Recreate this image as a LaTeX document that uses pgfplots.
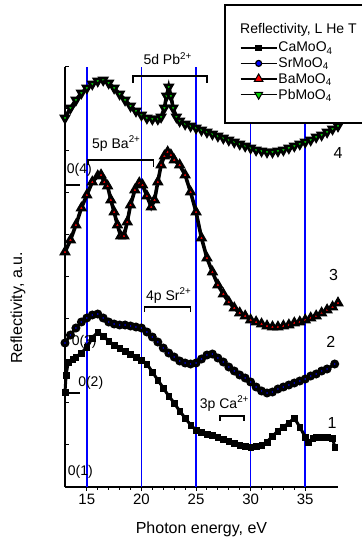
\documentclass[border=0pt]{standalone}
\usepackage{fontspec}
\setmainfont{Liberation Sans}
\usepackage{pgfplots}
\pgfplotsset{compat=1.18}
\newcommand{\fs}{\fontsize{14bp}{16bp}\selectfont}
\newcommand{\fl}{\fontsize{16bp}{18bp}\selectfont}
\begin{document}
\begin{tikzpicture}
\useasboundingbox (-65bp,-53bp) rectangle (297bp,487bp);
\begin{axis}[
  at={(0,0)}, anchor=south west,
  scale only axis, width=273bp, height=420bp,
  xmin=13, xmax=38, ymin=0, ymax=420,
  axis x line=bottom, axis y line=left,
  axis line style={-, line width=1.3bp},
  xtick={15,20,25,30,35}, minor x tick num=4,
  ytick={0,42,...,420}, yticklabels={},
  tick align=outside,
  major tick length=4bp, minor tick length=2.5bp,
  every tick/.style={black, line width=1bp},
  ytick style={xshift=4bp},
  /pgf/number format/assume math mode=true,
  every tick label/.append style={font=\fontsize{15bp}{17bp}\selectfont},
  xlabel={Photon energy, eV},
  xlabel style={at={(axis description cs:0.5,0)}, anchor=base, yshift=-46bp, font=\fl},
  ylabel={Reflectivity, a.u.},
  ylabel style={at={(axis description cs:-0.172,0.426)}, anchor=center, font=\fl},
  clip=false,
  legend image code/.code={\draw[mark repeat=2, mark phase=2] plot coordinates {(0bp,0bp) (18bp,0bp) (36bp,0bp)};},
  legend style={draw=none, fill=none, at={(axis cs:29.0,446)}, anchor=north west, font=\fs, row sep=2.3bp, inner sep=0pt, nodes={inner sep=1bp}},
  legend cell align=left,
]
% blue reference lines
\pgfplotsinvokeforeach{15,20,25,30,35}{
  \addplot[blue, line width=1.6bp, forget plot] coordinates {(#1,0) (#1,420)};
}
% Curve 1: CaMoO4
\addplot[black, line width=3bp, mark=square*, mark size=2.8bp, mark options={draw=black, fill=black, line width=0.5bp}, forget plot] coordinates {
(13,95) (13.1,112) (13.3,125) (13.7,128) (14,130) (14.5,134) (15,140) (15.5,149) (16,155) (16.5,151) (17,146) (17.5,142) (18,139) (18.5,136) (19,133) (19.5,130) (20,127) (20.5,123) (21,115) (21.5,107) (22,99) (22.5,91) (23,84) (23.5,76) (24,69) (24.5,62) (25,57) (25.5,55) (26,53) (26.5,52) (27,50) (27.5,48) (28,46) (28.5,44) (29,42) (29.5,41) (30,40) (30.5,41) (31,42) (31.5,45) (32,51) (32.5,56) (33,60) (33.5,64) (34,69) (34.5,60) (35,50) (35.3,45) (35.7,49) (36,50) (36.5,50) (37,50) (37.5,49) (37.7,40)
};
% Curve 2: SrMoO4
\addplot[black, line width=3.2bp, mark=*, mark size=2.7bp, mark options={draw=black, fill=blue, line width=3.4bp}, forget plot] coordinates {
(13,144) (13.5,152) (14,159) (14.5,165) (15,169) (15.5,172) (16,173) (16.5,169) (17,165) (17.5,163) (18,162) (18.5,162) (19,161) (19.5,160) (20,159) (20.5,155) (21,150) (21.5,145) (22,139) (22.5,134) (23,130) (23.5,126) (24,124) (24.5,123) (25,124) (25.5,128) (26,132) (26.5,133) (27,129) (27.5,125) (28,120) (28.5,116) (29,112) (29.5,109) (30,105) (30.5,100) (31,96) (31.5,94) (32,95) (32.5,98) (33,100) (33.5,102) (34,104) (34.5,106) (35,108) (35.5,111) (36,113) (36.5,116) (37,118) (37.7,123)
};
% Curve 3: BaMoO4
\addplot[black, line width=3.6bp, mark=triangle*, mark size=4.2bp, mark options={draw=black, fill=red, line width=2.6bp}, forget plot] coordinates {
(13,235) (13.5,247) (14,262) (14.5,279) (15,292) (15.5,305) (16,311) (16.3,312) (16.6,305) (16.9,301) (17.2,287) (17.5,275) (17.8,262) (18.1,251) (18.4,251) (18.7,265) (19,282) (19.4,297) (19.8,304) (20.1,302) (20.5,291) (20.9,280) (21.2,287) (21.5,305) (21.8,322) (22.1,331) (22.4,335) (22.7,332) (23,327) (23.5,322) (24,312) (24.5,295) (25,275) (25.5,249) (26,229) (26.5,215) (27,202) (27.5,193) (28,185) (28.5,179) (29,174) (29.5,171) (30,167) (30.5,165) (31,163) (31.5,161) (32,160) (32.5,160) (33,161) (33.5,162) (34,164) (34.5,165) (35,167) (35.5,169) (36,171) (36.5,174) (37,177) (37.5,180) (38,184)
};
% Curve 4: PbMoO4
\addplot[black, line width=3.6bp, mark=triangle*, mark size=4.2bp, mark options={draw=black, fill=green!80!black, line width=2.6bp, rotate=180}, forget plot] coordinates {
(13,369) (13.5,379) (14,387) (14.5,394) (15,399) (15.5,403) (16,406) (16.5,407) (17,404) (17.5,399) (18,393) (18.5,387) (19,381) (19.5,376) (20,372) (20.5,369) (21,368) (21.5,368) (21.8,370) (22.1,379) (22.3,391) (22.5,400) (22.7,391) (22.9,379) (23.2,370) (23.5,366) (24,363) (24.5,361) (25,359) (25.5,357) (26,355) (26.5,353) (27,351) (27.5,349) (28,347) (28.5,345) (29,343) (29.5,341) (30,339) (30.5,337) (31,336) (31.5,335) (32,335) (32.5,336) (33,337) (33.5,339) (34,341) (34.5,343) (35,345) (35.5,347) (36,350) (36.5,352) (37,355) (37.5,358) (38,361)
};
% zero-level markers
\draw[line width=1.3bp] (axis cs:13,302) -- (axis cs:14.37,302);
\draw[line width=1.3bp] (axis cs:13,127) -- (axis cs:13.9,127);
\draw[line width=1.3bp] (axis cs:13,94) -- (axis cs:14.37,94);
\node[anchor=west, inner sep=0pt, font=\fs] at (axis cs:13.15,317) {0(4)};
\node[anchor=west, inner sep=0pt, font=\fs] at (axis cs:13.6,145) {0(3)};
\node[anchor=west, inner sep=0pt, font=\fs] at (axis cs:14.2,104) {0(2)};
\node[anchor=west, inner sep=0pt, font=\fs] at (axis cs:13.25,15) {0(1)};
% brackets
\draw[line width=1.5bp] (axis cs:19.23,404) -- (axis cs:19.23,411) -- (axis cs:26.0,411) -- (axis cs:26.0,404);
\node[anchor=base, inner sep=0pt, font=\fs] at (axis cs:22.4,422) {5d Pb\textsuperscript{2+}};
\draw[line width=1.5bp] (axis cs:15.1,322) -- (axis cs:15.1,327) -- (axis cs:21.1,327) -- (axis cs:21.1,320);
\node[anchor=base, inner sep=0pt, font=\fs] at (axis cs:17.7,339) {5p Ba\textsuperscript{2+}};
\draw[line width=1.5bp] (axis cs:20.3,175) -- (axis cs:20.3,180) -- (axis cs:24.5,180) -- (axis cs:24.5,175);
\node[anchor=base, inner sep=0pt, font=\fs] at (axis cs:22.5,187) {4p Sr\textsuperscript{2+}};
\draw[line width=1.5bp] (axis cs:27.2,66) -- (axis cs:27.2,71) -- (axis cs:29.4,71) -- (axis cs:29.4,66);
\node[anchor=base, inner sep=0pt, font=\fs] at (axis cs:27.6,79) {3p Ca\textsuperscript{2+}};
% curve labels
\node[font=\fl] at (axis cs:38,334) {4};
\node[font=\fl] at (axis cs:37.6,212) {3};
\node[font=\fl] at (axis cs:37.35,145) {2};
\node[font=\fl] at (axis cs:37.45,64) {1};
% legend box
\draw[line width=1.5bp, fill=white] (axis cs:27.65,364) rectangle (axis cs:40.5,482);
\node[anchor=west, inner sep=0pt, font=\fs] at (axis cs:29.03,457) {Reflectivity, L He T};
\addlegendimage{black, line width=1.5bp, mark=square*, mark size=2.5bp, mark options={draw=black, fill=black}}
\addlegendentry{CaMoO\textsubscript{4}}
\addlegendimage{black, line width=1.5bp, mark=*, mark size=3bp, mark options={draw=black, fill=blue, line width=1.2bp}}
\addlegendentry{SrMoO\textsubscript{4}}
\addlegendimage{black, line width=1.5bp, mark=triangle*, mark size=5bp, mark options={draw=black, fill=red, line width=1bp}}
\addlegendentry{BaMoO\textsubscript{4}}
\addlegendimage{black, line width=1.5bp, mark=triangle*, mark size=4.5bp, mark options={draw=black, fill=green!80!black, line width=1bp, rotate=180}}
\addlegendentry{PbMoO\textsubscript{4}}
\end{axis}
\end{tikzpicture}
\end{document}
